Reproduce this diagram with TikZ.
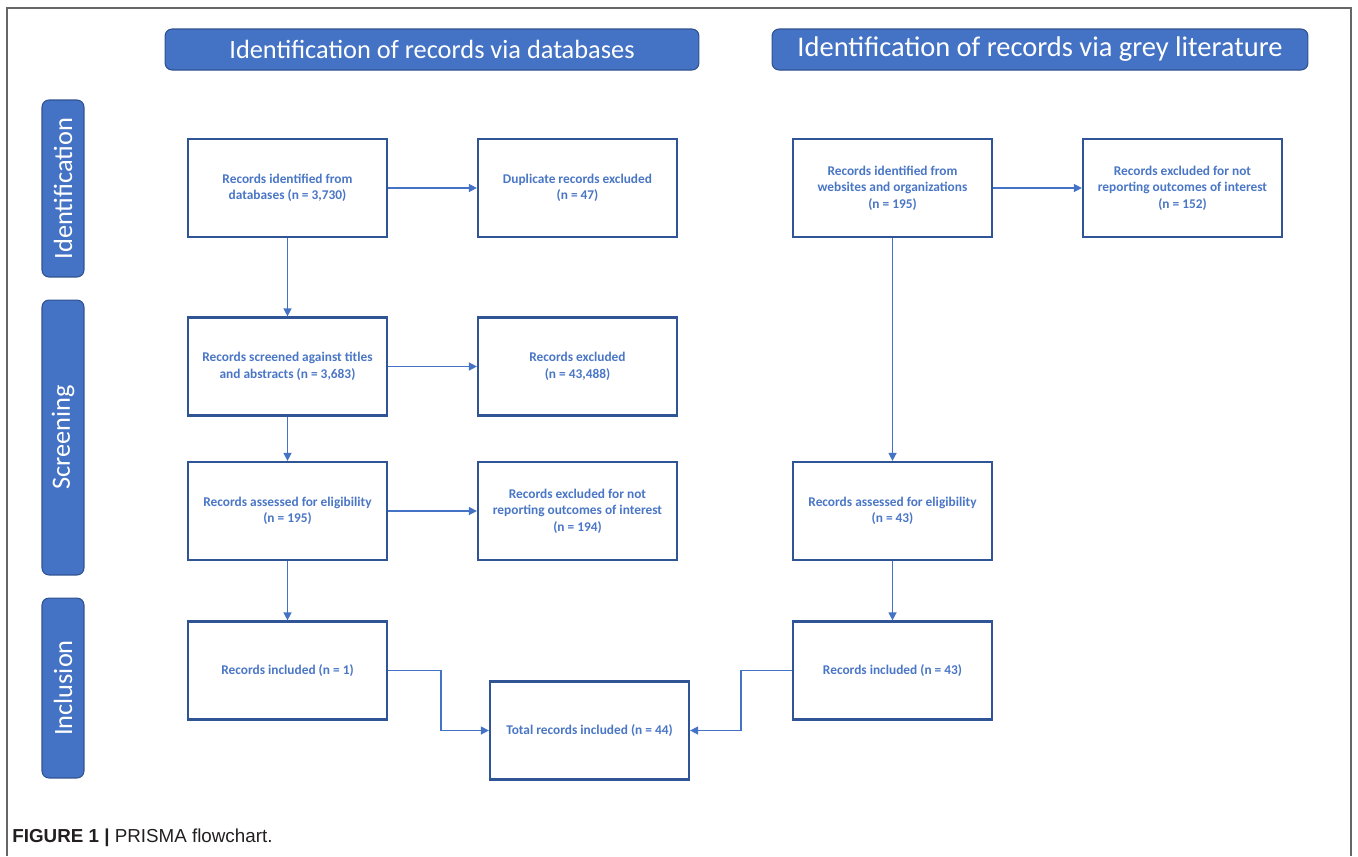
\documentclass[tikz,border=0pt]{standalone}
\usepackage{fontspec}
\setmainfont{Carlito}
\newfontfamily\capfont{Liberation Sans}
\usetikzlibrary{arrows.meta, positioning}
\definecolor{hdrblue}{HTML}{4472C4}
\definecolor{hdredge}{HTML}{2F528F}
\definecolor{boxedge}{HTML}{2F5597}
\definecolor{txtblue}{HTML}{4A76C6}
\definecolor{capgray}{HTML}{231F20}

\begin{document}
\begin{tikzpicture}[x=0.02cm, y=-0.02cm,
  header/.style={fill=hdrblue, draw=hdredge, line width=0.6pt, rounded corners=4pt, text=white, font=\fontsize{15}{18}\selectfont, minimum height=0.82cm, inner sep=0pt},
  phase/.style={header, rotate=90, minimum height=0.84cm},
  rec/.style={draw=boxedge, line width=1.3pt, minimum width=3.98cm, minimum height=1.96cm, align=center, inner sep=0pt, text=txtblue, font=\fontsize{7.6}{9.4}\selectfont\bfseries},
  arr/.style={draw=hdrblue, line width=0.8pt, -{Triangle[length=4.5pt, width=4.5pt]}}]
\useasboundingbox (0,0) rectangle (1358,856);
\draw[gray!80!black, line width=0.8pt] (7,856) -- (7,8) -- (1351,8) -- (1351,856);
% column headers
\node[header, minimum width=10.68cm] (hdrdb) at (432,49.5) {Identification of records via databases};
\node[header, minimum width=10.72cm, font=\fontsize{16.2}{18}\selectfont] (hdrgrey) at (1040,49.5) {Identification of records via grey literature};
% phase labels on the left
\foreach \y/\h/\name in {188.5/3.54/Identification, 437.5/5.5/Screening, 688/3.6/Inclusion}{\node[phase, minimum width=\h cm] (ph\name) at (63,\y) {\name};}
% databases column
\node[rec] (dbid) at (287.5,188) {Records identified from\\databases (n = 3,730)};
\node[rec] (dbdup) at (577.5,188) {Duplicate records excluded\\(n = 47)};
\node[rec] (dbscr) at (287.5,366.5) {Records screened against titles\\and abstracts (n = 3,683)};
\node[rec] (dbexc) at (577.5,366.5) {Records excluded\\(n = 43,488)};
\node[rec] (dbelig) at (287.5,511) {Records assessed for eligibility\\(n = 195)};
\node[rec] (dbnot) at (577.5,511) {Records excluded for not\\reporting outcomes of interest\\(n = 194)};
\node[rec] (dbinc) at (287.5,670.5) {Records included (n = 1)};
\node[rec] (total) at (589.5,730.5) {Total records included (n = 44)};
% grey literature column
\node[rec] (grid) at (892.5,188) {Records identified from\\websites and organizations\\(n = 195)};
\node[rec] (grnot) at (1182.5,188) {Records excluded for not\\reporting outcomes of interest\\(n = 152)};
\node[rec] (grelig) at (892.5,511) {Records assessed for eligibility\\(n = 43)};
\node[rec] (grinc) at (892.5,670.5) {Records included (n = 43)};
% connectors
\draw[arr] (dbid) -- (dbdup);
\draw[arr] (dbscr) -- (dbexc);
\draw[arr] (dbelig) -- (dbnot);
\draw[arr] (dbid) -- (dbscr);
\draw[arr] (dbscr) -- (dbelig);
\draw[arr] (dbelig) -- (dbinc);
\draw[arr] (grid) -- (grnot);
\draw[arr] (grid) -- (grelig);
\draw[arr] (grelig) -- (grinc);
\draw[arr] (dbinc.east) -- ++(53,0) |- (total.west);
\draw[arr] (grinc.west) -- ++(-51,0) |- (total.east);
% caption
\node[anchor=base west, inner sep=0pt, text=capgray, font=\capfont\fontsize{10.7}{12}\selectfont] (caption) at (12,842) {\textbf{FIGURE 1} \textbf{|} PRISMA flowchart.};
\end{tikzpicture}
\end{document}
